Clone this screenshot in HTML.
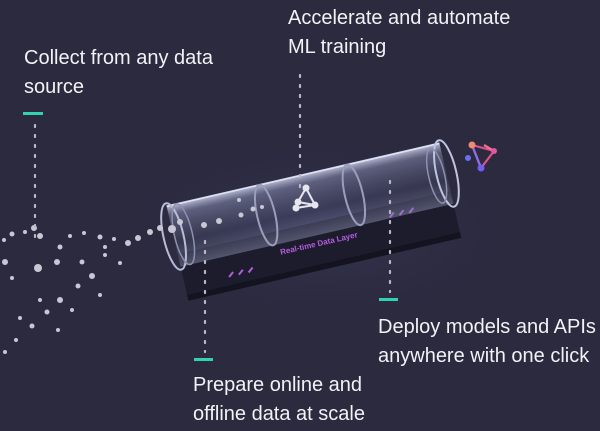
<!DOCTYPE html>
<html><head><style>
html,body{margin:0;padding:0;}
body{width:600px;height:431px;background:#2b2a3f;position:relative;overflow:hidden;font-family:"Liberation Sans",sans-serif;color:#fff;}
.t{position:absolute;font-size:20px;line-height:29px;color:#f2f2f6;white-space:nowrap;}
.bar{position:absolute;height:3px;background:#2fd3ae;}
</style></head><body>
<svg width="600" height="431" style="position:absolute;left:0;top:0">
<defs>
<linearGradient id="tube" x1="0" y1="0" x2="0" y2="1">
<stop offset="0" stop-color="#d8dcf4" stop-opacity="0.8"/>
<stop offset="0.15" stop-color="#8d92b8" stop-opacity="0.5"/>
<stop offset="0.6" stop-color="#4a4c68" stop-opacity="0.35"/>
<stop offset="1" stop-color="#8a8eb0" stop-opacity="0.5"/>
</linearGradient>
<radialGradient id="glow" cx="0.5" cy="0.5" r="0.5">
<stop offset="0" stop-color="#3b3d62" stop-opacity="0.8"/>
<stop offset="1" stop-color="#2b2a3f" stop-opacity="0"/>
</radialGradient>
</defs>
<ellipse cx="320" cy="230" rx="200" ry="90" fill="url(#glow)"/>
<g transform="translate(310,205) rotate(-13)">
<polygon points="-140,18 140,18 140,60 -140,60" fill="#1c1c2c"/>
<polygon points="-140,60 140,60 140,66 -140,66" fill="#141420"/>
<text x="0" y="42" font-size="8" fill="#b45ce0" text-anchor="middle" font-family="Liberation Sans" font-weight="bold">Real-time Data Layer</text>
<g stroke="#b45ce0" stroke-width="2">
<line x1="-95" y1="52" x2="-90" y2="48"/><line x1="-85" y1="52" x2="-80" y2="48"/><line x1="-75" y1="52" x2="-70" y2="48"/>
<line x1="75" y1="30" x2="80" y2="26"/><line x1="85" y1="30" x2="90" y2="26"/><line x1="95" y1="30" x2="100" y2="26"/>
</g>
<rect x="-140" y="-31" width="280" height="62" fill="url(#tube)"/>
<line x1="-140" y1="-31" x2="140" y2="-31" stroke="#e8ecff" stroke-width="1.8" opacity="0.9"/>
<ellipse cx="-140" cy="0" rx="10" ry="34" fill="none" stroke="#b8bcd8" stroke-width="2"/>
<ellipse cx="-130" cy="0" rx="9" ry="31" fill="none" stroke="#8d91b0" stroke-width="1.5"/>
<ellipse cx="-45" cy="0" rx="9" ry="31" fill="none" stroke="#9a9ebc" stroke-width="2"/>
<ellipse cx="45" cy="0" rx="9" ry="31" fill="none" stroke="#9a9ebc" stroke-width="2"/>
<ellipse cx="140" cy="0" rx="10" ry="34" fill="none" stroke="#c0c4e0" stroke-width="2"/>
<ellipse cx="130" cy="0" rx="8" ry="28" fill="none" stroke="#8d91b0" stroke-width="1.5"/>
</g>
<g stroke="#e6e6ee" stroke-width="2" fill="#e6e6ee">
<line x1="306" y1="188" x2="298" y2="202"/><line x1="306" y1="188" x2="315" y2="205"/><line x1="298" y1="202" x2="296" y2="208"/><line x1="296" y1="208" x2="315" y2="205"/><line x1="298" y1="202" x2="315" y2="205"/>
<circle cx="306" cy="188" r="2.5"/><circle cx="298" cy="202" r="2.5"/><circle cx="315" cy="205" r="2.5"/><circle cx="296" cy="208" r="2.5"/>
</g>
<g stroke-width="2.2" fill="none">
<polygon points="472,145 494,151 481,168" stroke="#e0508a"/>
<line x1="472" y1="145" x2="481" y2="168" stroke="#8a6ef0"/>
<line x1="484" y1="145" x2="494" y2="151" stroke="#f07090"/>
<circle cx="472" cy="145" r="3.5" fill="#f08a70" stroke="none"/>
<circle cx="494" cy="151" r="3" fill="#e05aa0" stroke="none"/>
<circle cx="481" cy="168" r="3.5" fill="#7060f0" stroke="none"/>
<circle cx="468" cy="158" r="3" fill="#6a70f0" stroke="none"/>
</g>
<g fill="#c8c8d4">
<circle cx="204" cy="225" r="3"/><circle cx="219" cy="221" r="3"/><circle cx="241" cy="215" r="2.5"/><circle cx="253" cy="209" r="2.5"/><circle cx="239" cy="200" r="2"/><circle cx="262" cy="207" r="2"/>
<circle cx="172" cy="229" r="4"/><circle cx="180" cy="222" r="3"/><circle cx="160" cy="228" r="3"/><circle cx="150" cy="232" r="3"/>
<circle cx="138" cy="238" r="3"/><circle cx="128" cy="243" r="3"/><circle cx="114" cy="239" r="2"/><circle cx="100" cy="237" r="2.5"/><circle cx="105" cy="247" r="2"/><circle cx="84" cy="233" r="2"/>
<circle cx="34" cy="228" r="3"/><circle cx="40" cy="236" r="3"/><circle cx="12" cy="234" r="2.5"/><circle cx="4" cy="240" r="2"/><circle cx="25" cy="232" r="2"/><circle cx="60" cy="247" r="2.5"/><circle cx="70" cy="236" r="2"/>
<circle cx="38" cy="268" r="4"/><circle cx="57" cy="262" r="3"/><circle cx="82" cy="262" r="2.5"/><circle cx="12" cy="278" r="2"/><circle cx="5" cy="262" r="3"/><circle cx="120" cy="263" r="2"/>
<circle cx="92" cy="276" r="3"/><circle cx="78" cy="286" r="2.5"/><circle cx="60" cy="300" r="3"/><circle cx="47" cy="312" r="2.5"/><circle cx="32" cy="326" r="2.5"/><circle cx="16" cy="340" r="2"/><circle cx="5" cy="352" r="2"/>
<circle cx="100" cy="295" r="2"/><circle cx="72" cy="310" r="2"/><circle cx="40" cy="300" r="2"/><circle cx="20" cy="318" r="2"/><circle cx="58" cy="330" r="2"/><circle cx="105" cy="255" r="2"/>
</g>
<g stroke="#b8b8c8" stroke-width="2.2" stroke-dasharray="2,8" stroke-linecap="round" fill="none">
<line x1="35" y1="125" x2="35" y2="240"/>
<line x1="300" y1="75" x2="300" y2="190"/>
<line x1="390" y1="181" x2="390" y2="292"/>
<line x1="205" y1="241" x2="205" y2="352"/>
</g>
</svg>
<div class="t" style="left:24px;top:44px">Collect from any data<br>source</div>
<div class="bar" style="left:23px;top:112px;width:20px"></div>
<div class="t" style="left:288px;top:4px">Accelerate and automate<br>ML training</div>
<div class="bar" style="left:379px;top:298px;width:19px"></div>
<div class="t" style="left:378px;top:313px">Deploy models and APIs<br>anywhere with one click</div>
<div class="bar" style="left:194px;top:358px;width:19px"></div>
<div class="t" style="left:193px;top:371px">Prepare online and<br>offline data at scale</div>
</body></html>
